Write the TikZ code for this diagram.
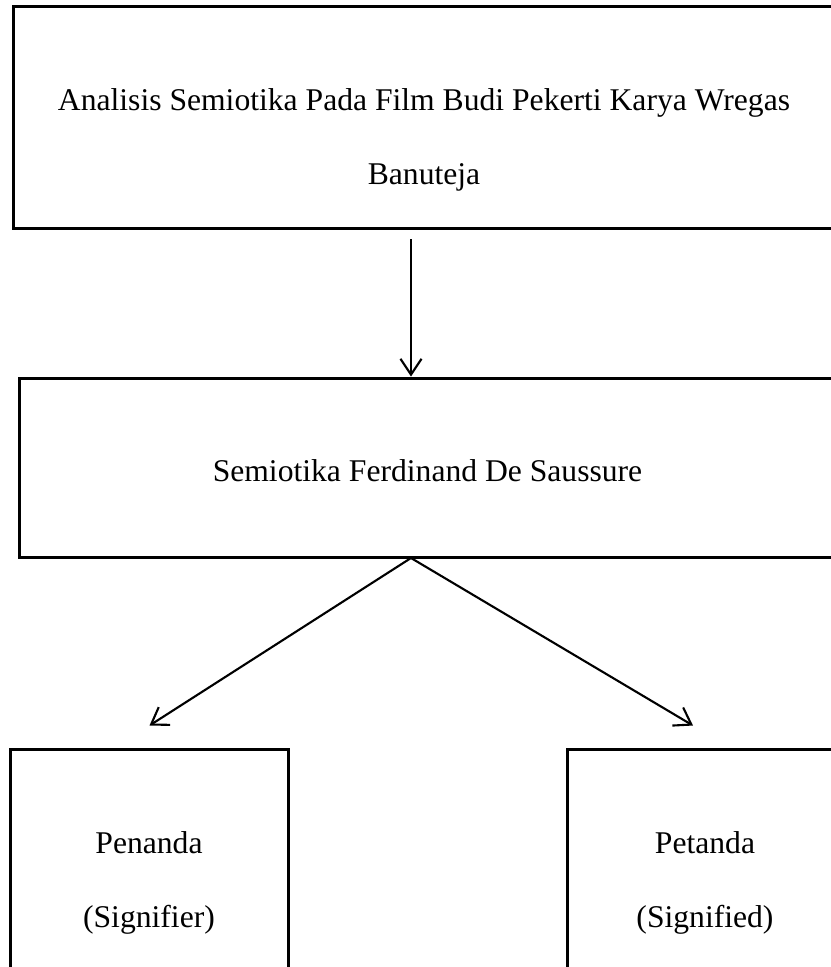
\documentclass[tikz,border=0pt]{standalone}
\usepackage{fontspec}
\setmainfont{Liberation Serif}
\usetikzlibrary{arrows.meta,calc}
\tikzstyle{box}=[draw, line width=1.7pt, inner sep=0pt]
\tikzstyle{txt}=[anchor=base, inner sep=0pt, font=\fontsize{18}{21}\selectfont]
\tikzstyle{arr}=[line width=1.2pt, -{Straight Barb[length=9pt,width=12pt,line width=1.2pt]}]

\begin{document}
\begin{tikzpicture}[x=0.02cm, y=-0.02cm]
			\path[use as bounding box] (0,0) rectangle (831,967);
			\clip (0,0) rectangle (831,967);

			%%% Boxes
			\node[box, minimum width=16.44cm, minimum height=4.46cm] (judul) at (424.0, 117.5) {};
			\node[box, minimum width=16.34cm, minimum height=3.60cm] (teori) at (427.5, 468.0) {};
			\node[box, minimum width=5.58cm,  minimum height=5.24cm] (penanda) at (149.5, 880.0) {};
			\node[box, minimum width=5.52cm,  minimum height=5.24cm] (petanda) at (705.0, 880.0) {};
			\coordinate (split) at (411, 558);

			%%% Labels
			\node[txt] (judulA) at (424, 110) {Analisis Semiotika Pada Film Budi Pekerti Karya Wregas};
			\node[txt] (judulB) at (424, 184) {Banuteja};
			\node[txt] (teoriA) at (427.5, 481) {Semiotika Ferdinand De Saussure};
			\node[txt] (penandaA) at (149, 853) {Penanda};
			\node[txt] (penandaB) at (149, 927) {(Signifier)};
			\node[txt] (petandaA) at (705, 853) {Petanda};
			\node[txt] (petandaB) at (705, 927) {(Signified)};

			%%% Arrows
			\draw[arr] ($(judul.south -| split)+(0,9)$) -- (teori.north -| split);
			\draw[arr] (split) -- ($(penanda.north)+(0,-22)$);
			\draw[arr] (split) -- ($(petanda.north)+(-12,-22)$);
		\end{tikzpicture}
\end{document}
